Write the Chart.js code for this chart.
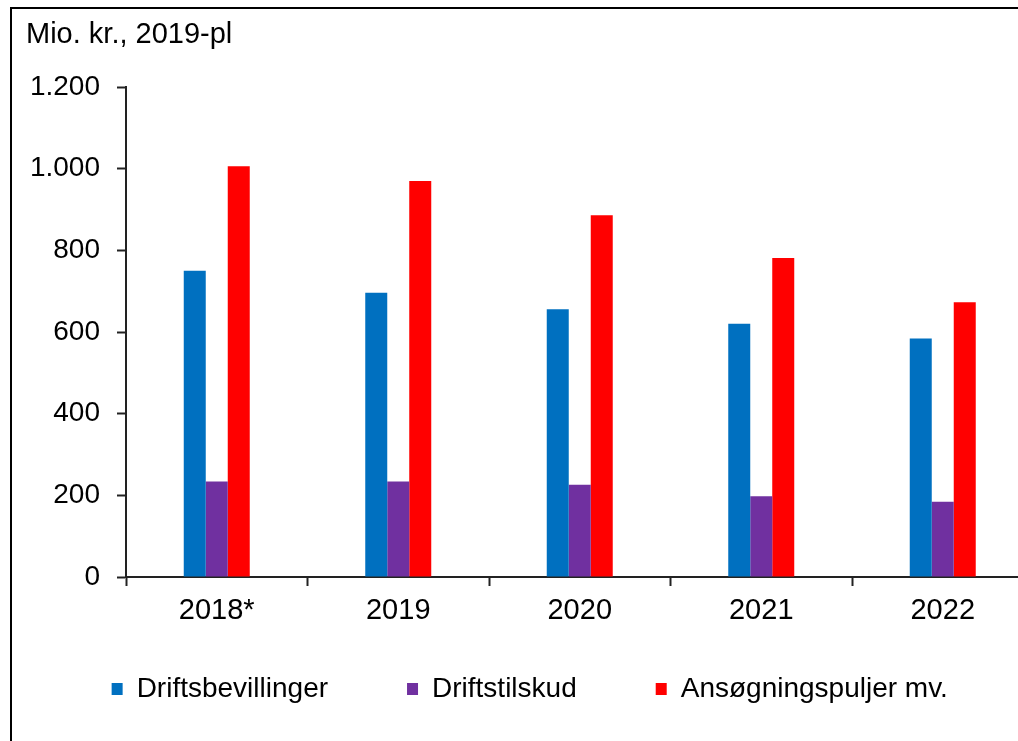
<!DOCTYPE html>
<html>
<head>
<meta charset="utf-8">
<script src="https://cdn.jsdelivr.net/npm/chart.js@4/dist/chart.umd.min.js"></script>
<style>
  html, body { margin: 0; padding: 0; width: 1018px; height: 741px; overflow: hidden; background: #fff; }
  #frame { position: absolute; left: 10px; top: 7px; width: 1100px; height: 800px;
           border-left: 2px solid #000; border-top: 2px solid #000; }
  #wrap { position: absolute; left: 0; top: 0; width: 1060px; height: 800px; }
</style>
</head>
<body>
<div id="frame"></div>
<div id="wrap"><canvas id="c" width="1060" height="800"></canvas></div>
<script>
const chartTitle = 'Mio. kr., 2019-pl';
const categories = ['2018*', '2019', '2020', '2021', '2022'];
const seriesNames = ['Driftsbevillinger', 'Driftstilskud', 'Ansøgningspuljer mv.'];
const driftsbevillinger = [750, 696, 656, 620, 584];
const driftstilskud = [234, 234, 226, 198, 184];
const ansoegningspuljer = [1006, 970, 886, 781, 673];
const seriesColors = ['#0070C0', '#7030A0', '#FF0000'];
const yTicks = [0, 200, 400, 600, 800, 1000, 1200];
const yTickLabels = ['0', '200', '400', '600', '800', '1.000', '1.200'];

const FONT = "'Liberation Sans', Arial, sans-serif";
const AXIS = '#222';
const LEGEND_OFFSET = 19;

const legendShift = {
  id: 'legendShift',
  afterLayout(chart) {
    const l = chart.legend;
    if (!l) return;
    const h = l.height;
    l.top = chart.chartArea.bottom + LEGEND_OFFSET;
    l.bottom = l.top + h;
  }
};

new Chart(document.getElementById('c'), {
  type: 'bar',
  data: {
    labels: categories,
    datasets: [
      { label: seriesNames[0], data: driftsbevillinger, backgroundColor: seriesColors[0] },
      { label: seriesNames[1], data: driftstilskud, backgroundColor: seriesColors[1] },
      { label: seriesNames[2], data: ansoegningspuljer, backgroundColor: seriesColors[2] }
    ]
  },
  plugins: [legendShift],
  options: {
    responsive: false,
    animation: false,
    datasets: { bar: { barPercentage: 1.0, categoryPercentage: 0.3636, borderWidth: 0 } },
    layout: { padding: { left: 26, right: 26.5, top: 0, bottom: 46 } },
    plugins: {
      title: {
        display: true, text: chartTitle, align: 'start', color: '#000',
        font: { family: FONT, size: 29, weight: 'normal' },
        padding: { top: 17.6, bottom: 34.6 }
      },
      legend: {
        position: 'bottom', align: 'center',
        labels: {
          boxWidth: 11, boxHeight: 12, padding: 79, color: '#000',
          font: { family: FONT, size: 28 }
        }
      },
      tooltip: { enabled: false }
    },
    scales: {
      x: {
        offset: true,
        grid: { display: true, offset: true, drawOnChartArea: false, drawTicks: true,
                tickLength: 9, tickWidth: 2, tickColor: AXIS },
        border: { display: true, color: AXIS, width: 2 },
        ticks: { color: '#000', padding: 8, maxRotation: 0, autoSkip: false,
                 font: { family: FONT, size: 29 } },
        afterFit: (s) => { s.height = 60; }
      },
      y: {
        min: 0, max: 1200,
        afterBuildTicks: (s) => { s.ticks = yTicks.map(v => ({ value: v })); },
        grid: { display: true, drawOnChartArea: false, drawTicks: true,
                tickLength: 9, tickWidth: 2, tickColor: AXIS },
        border: { display: true, color: AXIS, width: 2 },
        ticks: { color: '#000', padding: 17,
                 font: { family: FONT, size: 28 },
                 callback: (v) => yTickLabels[yTicks.indexOf(v)] },
        afterFit: (s) => { s.width = 100; }
      }
    }
  }
});
</script>
</body>
</html>
